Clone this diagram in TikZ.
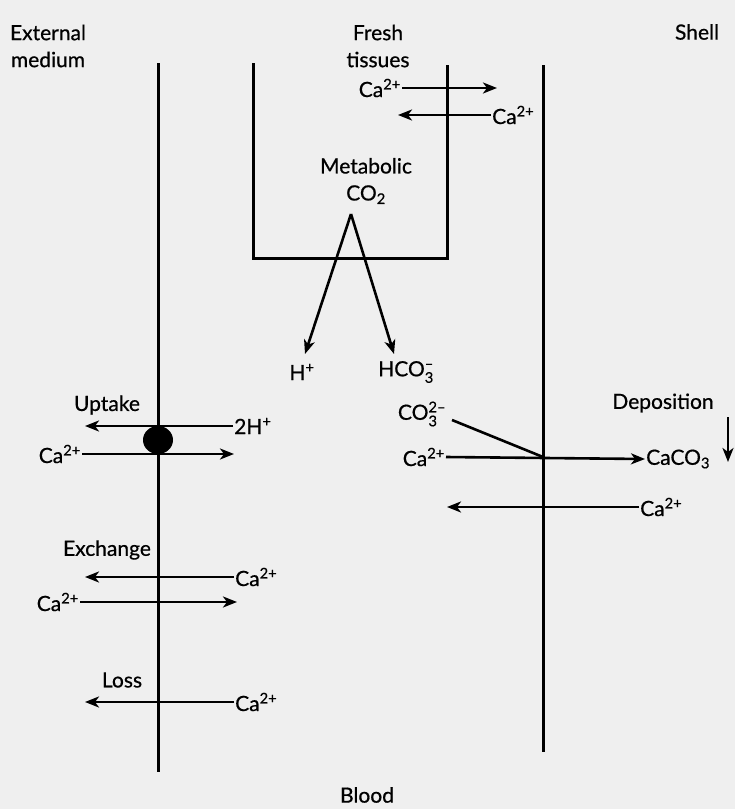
\documentclass[tikz,border=0pt]{standalone}
\usepackage{amsmath}
\usepackage{fontspec}
\setmainfont{Lato}[BoldFont=Lato, BoldFeatures={FakeBold=0.6}]
\usetikzlibrary{arrows.meta,positioning,calc}
\definecolor{paper}{HTML}{EFEFEF}
\newcommand{\ion}[2]{#1\ensuremath{^{\text{#2}}}}
\newcommand{\ionsub}[3]{#1\ensuremath{_{\text{#2}}^{\text{#3}}}}

\begin{document}
\begin{tikzpicture}[x=1pt,y=-1pt,
  lbl/.style={font=\fontsize{21}{27}\selectfont\bfseries, inner sep=1pt, align=center},
  wall/.style={line width=3pt},
  flux/.style={line width=2.6pt, -{Stealth[length=14pt,width=11pt,inset=4pt]}},
  bond/.style={line width=2.6pt}]
% Paper
\fill[paper] (0,0) rectangle (735,809);
\useasboundingbox (0,0) rectangle (735,809);

% Membranes and tissue box
\draw[wall] (158,63) -- (158,772);
\draw[wall] (543,65) -- (543,752);
\draw[wall] (253,63) -- (253,258) -- (447,258) -- (447,65);

% Headings
\node[lbl] (ext) at (48,46) {External\\medium};
\node[lbl] (fresh) at (378,46) {Fresh\\tissues};
\node[lbl] (shell) at (697,32) {Shell};
\node[lbl] (blood) at (367,795) {Blood};

% Tissues <-> shell
\node[lbl, anchor=east] (caT1) at (402,88) {\ion{Ca}{2+}};
\coordinate (caT1end) at (497,88);
\draw[flux] (caT1.east) -- (caT1end);
\node[lbl, anchor=west] (caT2) at (491,115) {\ion{Ca}{2+}};
\coordinate (caT2end) at (398,115);
\draw[flux] (caT2.west) -- (caT2end);

% Metabolic CO2
\node[lbl] (meta) at (366,181) {Metabolic\\CO\textsubscript{2}};
\coordinate (apex) at (351,214);
\node[lbl] (hplus) at (302,372) {\ion{H}{+}};
\node[lbl] (hco) at (406,372) {\ionsub{HCO}{3}{--}};
\draw[flux] (apex) -- (305,354);
\draw[flux] (apex) -- (394,354);

% Uptake
\node[lbl] (uptake) at (107,405) {Uptake};
\node[lbl, anchor=west] (hTwo) at (233,426) {2\ion{H}{+}};
\coordinate (hTwoend) at (85,426);
\draw[flux] (hTwo.west) -- (hTwoend);
\node[lbl, anchor=east] (caU) at (82,454) {\ion{Ca}{2+}};
\coordinate (caUend) at (234,454);
\draw[flux] (caU.east) -- (caUend);
\fill (158,440) ellipse (15 and 14);

% Exchange
\node[lbl] (exch) at (107,550) {Exchange};
\node[lbl, anchor=west] (caE1) at (234,577) {\ion{Ca}{2+}};
\coordinate (caE1end) at (85,577);
\draw[flux] (caE1.west) -- (caE1end);
\node[lbl, anchor=east] (caE2) at (80,602) {\ion{Ca}{2+}};
\coordinate (caE2end) at (237,602);
\draw[flux] (caE2.east) -- (caE2end);

% Loss
\node[lbl] (loss) at (122,680) {Loss};
\node[lbl, anchor=west] (caL) at (234,702) {\ion{Ca}{2+}};
\coordinate (caLend) at (85,702);
\draw[flux] (caL.west) -- (caLend);

% Deposition
\node[lbl] (depo) at (663,403) {Deposition};
\coordinate (depoTop) at (728,417);
\coordinate (depoBot) at (728,462);
\draw[flux] (depoTop) -- (depoBot);
\node[lbl] (coThree) at (422,414) {\ionsub{CO}{3}{2--}};
\coordinate (meet) at (543,457);
\draw[bond] (452,420) -- (meet);
\node[lbl, anchor=east] (caD) at (446,457) {\ion{Ca}{2+}};
\node[lbl, anchor=west] (caco) at (645,459) {CaCO\textsubscript{3}};
\draw[flux] (caD.east) -- (caco.west);
\node[lbl, anchor=west] (caS) at (639,507) {\ion{Ca}{2+}};
\coordinate (caSend) at (447,507);
\draw[flux] (caS.west) -- (caSend);
\end{tikzpicture}
\end{document}
